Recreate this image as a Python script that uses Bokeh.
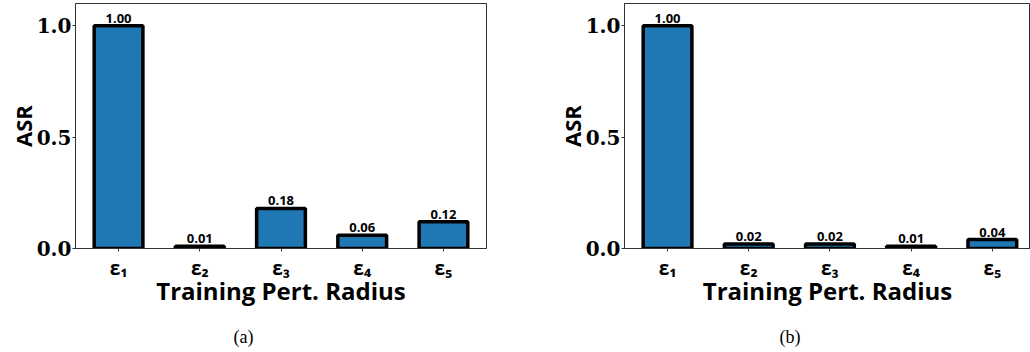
from bokeh.plotting import figure
from bokeh.layouts import row
from bokeh.models import ColumnDataSource, FixedTicker, Range1d, Title
from bokeh.core.properties import value
from bokeh.embed import file_html
from bokeh.resources import INLINE

categories = ["ε₁", "ε₂", "ε₃", "ε₄", "ε₅"]
asr_a = [1.00, 0.01, 0.18, 0.06, 0.12]
asr_b = [1.00, 0.02, 0.02, 0.01, 0.04]
captions = ["(a)", "(b)"]
x_title = "Training Pert. Radius"
y_title = "ASR"
y_ticks = [0.0, 0.5, 1.0]

SANS = "Open Sans"
SERIF_TICK = "DejaVu Serif"
CAPTION_FONT = "Liberation Serif"


def make_panel(vals, caption, width, x_end, border_right, cap_offset):
    p = figure(width=width, height=352,
               x_range=Range1d(-0.53, x_end), y_range=Range1d(0, 1.1),
               output_backend="svg", toolbar_location=None,
               min_border_left=75, min_border_right=border_right,
               min_border_top=3, min_border_bottom=104)
    xs = list(range(len(vals)))
    src = ColumnDataSource(dict(x=xs, top=vals, lab=[f"{v:.2f}" for v in vals]))
    p.vbar(x="x", top="top", bottom=0, width=0.6, source=src,
           fill_color="#1f77b4", line_color="black", line_width=3.5)
    p.text(x="x", y="top", text="lab", source=src, text_align="center",
           text_baseline="bottom", y_offset=-3,
           text_font=value(SANS), text_font_style="bold",
           text_font_size="13px", text_color="black")

    p.grid.visible = False
    p.outline_line_color = "#333333"
    p.outline_line_width = 1

    xa = p.xaxis[0]
    xa.ticker = FixedTicker(ticks=xs)
    xa.major_label_overrides = {i: categories[i] for i in xs}
    xa.major_label_text_font = SANS
    xa.major_label_text_font_style = "bold"
    xa.major_label_text_font_size = "19px"
    xa.major_label_text_color = "black"
    xa.major_label_standoff = 3
    xa.major_tick_out = 3
    xa.major_tick_in = 0
    xa.minor_tick_out = 0
    xa.minor_tick_in = 0
    xa.axis_line_color = "#333333"
    xa.major_tick_line_color = "#333333"
    xa.axis_label = x_title
    xa.axis_label_text_font = SANS
    xa.axis_label_text_font_style = "bold"
    xa.axis_label_text_font_size = "24px"
    xa.axis_label_text_color = "black"
    xa.axis_label_standoff = -10

    ya = p.yaxis[0]
    ya.ticker = FixedTicker(ticks=y_ticks)
    ya.major_label_overrides = {0: "0.0", 0.5: "0.5", 1: "1.0"}
    ya.major_label_text_font = SERIF_TICK
    ya.major_label_text_font_style = "bold"
    ya.major_label_text_font_size = "20px"
    ya.major_label_text_color = "black"
    ya.major_label_standoff = 1
    ya.major_tick_out = 3
    ya.major_tick_in = 0
    ya.minor_tick_out = 0
    ya.minor_tick_in = 0
    ya.axis_line_color = "#333333"
    ya.major_tick_line_color = "#333333"
    ya.axis_label = y_title
    ya.axis_label_text_font = SANS
    ya.axis_label_text_font_style = "bold"
    ya.axis_label_text_font_size = "22px"
    ya.axis_label_text_color = "black"
    ya.axis_label_standoff = -4

    spacer = Title(text=" ", standoff=12, text_font_size="1px")
    p.add_layout(spacer, "below")
    cap = Title(text=caption, align="left", offset=cap_offset, standoff=0,
                vertical_align="bottom",
                text_font=CAPTION_FONT, text_font_size="18px",
                text_font_style="normal", text_color="black")
    p.add_layout(cap, "below")
    return p


left = make_panel(asr_a, captions[0], 549, 4.53, 63, 158)
right = make_panel(asr_b, captions[1], 481, 4.47, 0, 155)
layout = row(left, right, spacing=0)

open("out.html", "w").write(file_html(layout, INLINE))
